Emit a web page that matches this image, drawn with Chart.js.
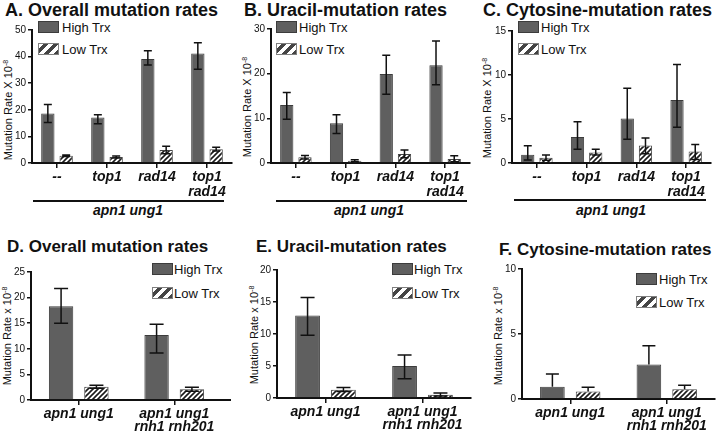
<!DOCTYPE html>
<html>
<head>
<meta charset="utf-8">
<script src="https://cdn.jsdelivr.net/npm/chart.js@4.4.0/dist/chart.umd.min.js"></script>
<style>
body { margin: 0; width: 716px; height: 436px; position: relative; overflow: hidden; background: #fff;
       font-family: "Liberation Sans", Arial, Helvetica, sans-serif; color: #111; }
canvas, .t, .lg, .sw, .yt, .ul, .gl { position: absolute; }
.t { font-weight: bold; font-size: 18px; line-height: 18px; white-space: nowrap; }
.t.s { font-size: 17px; line-height: 17px; }
.lg { font-size: 13px; line-height: 13px; white-space: nowrap; }
.sw { box-sizing: border-box; width: 21px; height: 12px; }
.sw.hi { background: #5f5f5f; border: 1px solid #3c3c3c; }
.sw.lo { background: repeating-linear-gradient(135deg, #fff 0 3.5px, #444 3.5px 7px); border: 1.5px solid #808080; }
.yt { font-size: 11px; line-height: 11px; white-space: nowrap; transform: translate(-50%, -50%) rotate(-90deg); }
.yt sup { font-size: 7px; line-height: 0; vertical-align: 4px; }
.ul { height: 2px; background: #111; }
.gl { font-style: italic; font-weight: bold; font-size: 14px; line-height: 14px; white-space: nowrap; transform: translateX(-50%); }
</style>
</head>
<body>

<div class="t" style="left:5px;top:1px">A. Overall mutation rates</div>
<div class="t" style="left:244px;top:1px">B. Uracil-mutation rates</div>
<div class="t" style="left:483px;top:1px">C. Cytosine-mutation rates</div>
<div class="t s" style="left:7px;top:238px">D. Overall mutation rates</div>
<div class="t s" style="left:256px;top:238px">E. Uracil-mutation rates</div>
<div class="t s" style="left:499px;top:241px">F. Cytosine-mutation rates</div>

<div class="yt" style="left:8px;top:110px">Mutation Rate X 10<sup>-8</sup></div>
<div class="yt" style="left:247px;top:107px">Mutation Rate X 10<sup>-8</sup></div>
<div class="yt" style="left:487px;top:108px">Mutation Rate X 10<sup>-8</sup></div>
<div class="yt" style="left:7px;top:336px">Mutation Rate x 10<sup>-8</sup></div>
<div class="yt" style="left:254px;top:335px">Mutation Rate x 10<sup>-8</sup></div>
<div class="yt" style="left:498px;top:336px">Mutation Rate x 10<sup>-8</sup></div>

<div class="sw hi" style="left:38px;top:21px"></div><div class="lg" style="left:62px;top:21px">High Trx</div>
<div class="sw lo" style="left:38px;top:43px"></div><div class="lg" style="left:62px;top:43px">Low Trx</div>
<div class="sw hi" style="left:276px;top:21px"></div><div class="lg" style="left:299px;top:21px">High Trx</div>
<div class="sw lo" style="left:276px;top:43px"></div><div class="lg" style="left:299px;top:43px">Low Trx</div>
<div class="sw hi" style="left:518px;top:21px"></div><div class="lg" style="left:541px;top:21px">High Trx</div>
<div class="sw lo" style="left:518px;top:43px"></div><div class="lg" style="left:541px;top:43px">Low Trx</div>
<div class="sw hi" style="left:152px;top:263px"></div><div class="lg" style="left:174px;top:263px">High Trx</div>
<div class="sw lo" style="left:152px;top:287px"></div><div class="lg" style="left:174px;top:287px">Low Trx</div>
<div class="sw hi" style="left:392px;top:263px"></div><div class="lg" style="left:414px;top:263px">High Trx</div>
<div class="sw lo" style="left:392px;top:287px"></div><div class="lg" style="left:414px;top:287px">Low Trx</div>
<div class="sw hi" style="left:636px;top:273px"></div><div class="lg" style="left:659px;top:273px">High Trx</div>
<div class="sw lo" style="left:636px;top:296px"></div><div class="lg" style="left:659px;top:296px">Low Trx</div>

<div class="ul" style="left:33px;top:200px;width:191px"></div>
<div class="gl" style="left:128px;top:203px">apn1 ung1</div>
<div class="ul" style="left:276px;top:200px;width:191px"></div>
<div class="gl" style="left:369px;top:203px">apn1 ung1</div>
<div class="ul" style="left:514px;top:199px;width:192px"></div>
<div class="gl" style="left:611px;top:203px">apn1 ung1</div>

<script>
/* Categories. */
const topCats = ["--", "top1", "rad14", ["top1", "rad14"]];
const bottomCats = ["apn1 ung1", ["apn1 ung1", "rnh1 rnh201"]];

/* A. Overall mutation rates. */
const overallHigh = [18.6, 17.1, 39.1, 41.2];
const overallHighLo = [15.2, 14.8, 36.8, 35.2];
const overallHighHi = [22.0, 18.1, 42.2, 45.2];
const overallLow = [2.7, 2.3, 4.9, 5.2];
const overallLowLo = [2.4, 1.9, 3.5, 4.5];
const overallLowHi = [3.0, 2.6, 6.3, 5.9];

/* B. Uracil-mutation rates. */
const uracilHigh = [13.0, 8.9, 19.9, 21.9];
const uracilHighLo = [9.8, 6.6, 15.4, 17.5];
const uracilHighHi = [15.8, 10.8, 24.1, 27.3];
const uracilLow = [1.3, 0.5, 2.0, 0.9];
const uracilLowLo = [0.9, 0.3, 1.2, 0.3];
const uracilLowHi = [1.7, 0.7, 2.9, 1.6];

/* C. Cytosine-mutation rates. */
const cytosineHigh = [0.95, 2.95, 5.05, 7.15];
const cytosineHighLo = [0.35, 1.55, 2.7, 4.05];
const cytosineHighHi = [1.95, 4.7, 8.5, 11.2];
const cytosineLow = [0.6, 1.2, 2.0, 1.3];
const cytosineLowLo = [0.3, 0.9, 1.05, 0.4];
const cytosineLowHi = [0.9, 1.55, 2.85, 2.1];

/* D. Overall mutation rates, rnh1 rnh201. */
const rnhOverallHigh = [18.3, 12.7];
const rnhOverallHighLo = [15.0, 9.2];
const rnhOverallHighHi = [21.8, 14.8];
const rnhOverallLow = [2.6, 2.1];
const rnhOverallLowLo = [2.3, 1.7];
const rnhOverallLowHi = [2.9, 2.5];

/* E. Uracil-mutation rates, rnh1 rnh201. */
const rnhUracilHigh = [12.9, 5.0];
const rnhUracilHighLo = [9.8, 3.0];
const rnhUracilHighHi = [15.7, 6.7];
const rnhUracilLow = [1.3, 0.5];
const rnhUracilLowLo = [1.0, 0.3];
const rnhUracilLowHi = [1.65, 0.78];

/* F. Cytosine-mutation rates, rnh1 rnh201 (upper error bars only). */
const rnhCytosineHigh = [0.95, 2.65];
const rnhCytosineHighHi = [1.92, 4.1];
const rnhCytosineLow = [0.57, 0.75];
const rnhCytosineLowHi = [0.9, 1.05];

Chart.defaults.font.family = '"Liberation Sans", Arial, Helvetica, sans-serif';

/* Diagonal hatch for the Low Trx bars. */
function makeHatch() {
	const c = document.createElement("canvas");
	c.width = 5; c.height = 5;
	const g = c.getContext("2d");
	g.fillStyle = "#fff";
	g.fillRect(0, 0, 5, 5);
	g.strokeStyle = "#1a1a1a";
	g.lineWidth = 1.6;
	g.beginPath();
	g.moveTo(-1, 6); g.lineTo(6, -1);
	g.moveTo(-1, 1); g.lineTo(1, -1);
	g.moveTo(4, 6); g.lineTo(6, 4);
	g.stroke();
	return g.createPattern(c, "repeat");
}
const hatch = makeHatch();

/* Error bars drawn from the dataset's errLo / errHi arrays. */
const errorBars = {
	id: "errorBars",
	afterDatasetsDraw(chart, args, opts) {
		const ctx = chart.ctx;
		const y = chart.scales.y;
		ctx.save();
		ctx.strokeStyle = "#111";
		ctx.lineWidth = 1.5;
		chart.data.datasets.forEach((ds, di) => {
			chart.getDatasetMeta(di).data.forEach((bar, i) => {
				const top = y.getPixelForValue(ds.errHi[i]);
				const bot = y.getPixelForValue(ds.errLo ? ds.errLo[i] : ds.data[i]);
				const h = opts.cap / 2;
				ctx.beginPath();
				ctx.moveTo(bar.x, top); ctx.lineTo(bar.x, bot);
				ctx.moveTo(bar.x - h, top); ctx.lineTo(bar.x + h, top);
				if (ds.errLo) { ctx.moveTo(bar.x - h, bot); ctx.lineTo(bar.x + h, bot); }
				ctx.stroke();
			});
		});
		if (opts.axisTo) {
			const a = chart.chartArea;
			ctx.lineWidth = 2;
			ctx.beginPath();
			ctx.moveTo(a.right, a.bottom);
			ctx.lineTo(opts.axisTo, a.bottom);
			ctx.stroke();
		}
		ctx.restore();
	},
};

function makePanel(p) {
	const [bx, by, bw, bh] = p.box;
	const [l, t, r, b] = p.area;
	const cv = document.createElement("canvas");
	cv.width = bw; cv.height = bh;
	cv.style.left = bx + "px"; cv.style.top = by + "px";
	document.body.appendChild(cv);

	new Chart(cv, {
		type: "bar",
		data: {
			labels: p.labels,
			datasets: [
				{
					label: "High Trx", data: p.high, errLo: p.highLo, errHi: p.highHi,
					backgroundColor: "#5f5f5f", borderColor: "#3c3c3c", borderWidth: 1,
					categoryPercentage: p.cat, barPercentage: p.bar,
				},
				{
					label: "Low Trx", data: p.low, errLo: p.lowLo, errHi: p.lowHi,
					backgroundColor: hatch, borderColor: "#444", borderWidth: 1,
					categoryPercentage: p.cat, barPercentage: p.bar,
				},
			],
		},
		options: {
			responsive: false,
			animation: false,
			devicePixelRatio: 1,
			layout: { padding: { left: 0, top: t - by, right: bx + bw - r, bottom: 0 } },
			plugins: {
				legend: { display: false },
				tooltip: { enabled: false },
				errorBars: { cap: p.cap, axisTo: p.axisTo ? p.axisTo - bx : 0 },
			},
			scales: {
				x: {
					grid: { drawOnChartArea: false, offset: false, tickLength: 5, color: "#111", lineWidth: 1.5 },
					border: { color: "#111", width: 2 },
					ticks: {
						color: "#111", padding: 2, maxRotation: 0, autoSkip: false,
						font: { size: 14, style: "italic", weight: "bold", lineHeight: p.lh },
					},
					afterFit: (s) => { s.height = by + bh - b; },
				},
				y: {
					min: 0,
					max: p.yMax,
					ticks: { stepSize: p.step, color: "#111", padding: 2, font: { size: 10 } },
					grid: { drawOnChartArea: false, tickLength: 4, color: "#111", lineWidth: 1.5 },
					border: { color: "#111", width: 2 },
					afterFit: (s) => { s.width = l - bx; },
				},
			},
		},
		plugins: [errorBars],
	});
}

makePanel({
	box: [0, 0, 240, 200], area: [32, 30, 232, 163], labels: topCats,
	high: overallHigh, highLo: overallHighLo, highHi: overallHighHi,
	low: overallLow, lowLo: overallLowLo, lowHi: overallLowHi,
	yMax: 50, step: 10, cat: 0.733, bar: 0.727, cap: 8, lh: 1.07,
});
makePanel({
	box: [240, 0, 238, 200], area: [271, 29, 470, 163], labels: topCats,
	high: uracilHigh, highLo: uracilHighLo, highHi: uracilHighHi,
	low: uracilLow, lowLo: uracilLowLo, lowHi: uracilLowHi,
	yMax: 30, step: 10, cat: 0.733, bar: 0.727, cap: 8, lh: 1.07,
});
makePanel({
	box: [480, 0, 236, 200], area: [512, 31, 711, 163], labels: topCats,
	high: cytosineHigh, highLo: cytosineHighLo, highHi: cytosineHighHi,
	low: cytosineLow, lowLo: cytosineLowLo, lowHi: cytosineLowHi,
	yMax: 15, step: 5, cat: 0.733, bar: 0.727, cap: 8, lh: 1.07,
});
makePanel({
	box: [0, 262, 240, 174], area: [31, 272, 222, 400], labels: bottomCats,
	high: rnhOverallHigh, highLo: rnhOverallHighLo, highHi: rnhOverallHighHi,
	low: rnhOverallLow, lowLo: rnhOverallLowLo, lowHi: rnhOverallLowHi,
	yMax: 25, step: 5, cat: 0.74, bar: 0.69, cap: 14, lh: 0.965, axisTo: 231,
});
makePanel({
	box: [240, 262, 240, 174], area: [277, 269, 471, 398], labels: bottomCats,
	high: rnhUracilHigh, highLo: rnhUracilHighLo, highHi: rnhUracilHighHi,
	low: rnhUracilLow, lowLo: rnhUracilLowLo, lowHi: rnhUracilLowHi,
	yMax: 20, step: 5, cat: 0.74, bar: 0.69, cap: 14, lh: 0.965,
});
makePanel({
	box: [480, 258, 236, 178], area: [522, 269, 715, 399], labels: bottomCats,
	high: rnhCytosineHigh, highLo: null, highHi: rnhCytosineHighHi,
	low: rnhCytosineLow, lowLo: null, lowHi: rnhCytosineLowHi,
	yMax: 10, step: 5, cat: 0.74, bar: 0.69, cap: 13, lh: 0.965,
});
</script>
</body>
</html>
